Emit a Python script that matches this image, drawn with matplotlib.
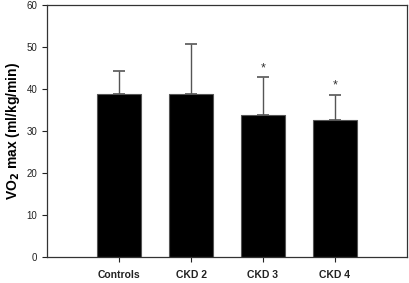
import matplotlib
matplotlib.use("Agg")
import matplotlib.pyplot as plt

categories = ["Controls", "CKD 2", "CKD 3", "CKD 4"]
means = [38.8, 38.8, 33.9, 32.7]
sd_upper = [5.4, 11.9, 8.9, 5.9]
significant = [False, False, True, True]

plt.rcParams['font.family'] = ['Liberation Sans', 'DejaVu Sans']

fig = plt.figure(figsize=(4.09, 2.83), dpi=100)
ax = fig.add_axes([0.115, 0.092, 0.880, 0.890])

x = list(range(len(categories)))
ax.bar(x, means, width=0.6, color='black', edgecolor='#555555', linewidth=0.8, zorder=2)
ax.errorbar(x, means, yerr=[[0]*len(means), sd_upper], fmt='none', ecolor='#555555',
            elinewidth=1.0, capsize=4, capthick=1.2, zorder=1)
for xi, m, s, sig in zip(x, means, sd_upper, significant):
    if sig:
        ax.text(xi, m + s + 0.8, '*', ha='center', va='bottom', fontsize=9, color='#333333')

ax.set_xlim(-1, 4)
ax.set_ylim(0, 60)
ax.set_yticks([0, 10, 20, 30, 40, 50, 60])
ax.set_xticks(x)
ax.set_xticklabels(categories, fontweight='bold', fontsize=7.5)
ax.tick_params(axis='y', labelsize=7, direction='out', length=3.5, width=0.8, colors='#222222')
ax.tick_params(axis='x', direction='out', length=3.5, width=0.8, pad=6, colors='#222222')
for sp in ax.spines.values():
    sp.set_color('#333333')
    sp.set_linewidth(0.9)
ax.set_ylabel('VO$_\\mathbf{2}$ max (ml/kg/min)', fontweight='bold', fontsize=10, labelpad=3)

fig.savefig('out.png', dpi=100)
